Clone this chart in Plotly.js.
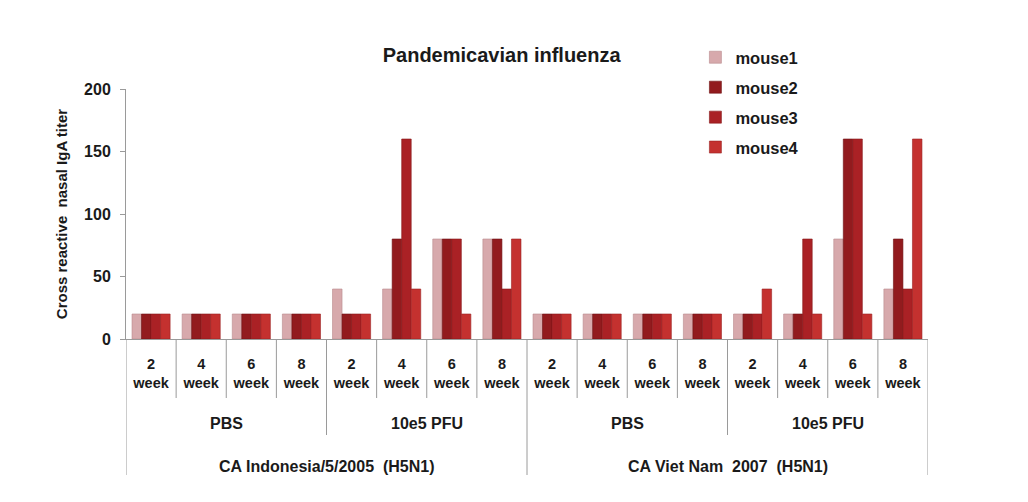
<!DOCTYPE html>
<html>
<head>
<meta charset="utf-8">
<script src="https://cdn.plot.ly/plotly-3.0.1.min.js"></script>
<style>
  html, body { margin: 0; padding: 0; background: #ffffff; }
  #chart { width: 1028px; height: 502px; }
</style>
</head>
<body>
<div id="chart"></div>
<script>
// ---- Data ----
const weekLabels = ["2", "4", "6", "8", "2", "4", "6", "8", "2", "4", "6", "8", "2", "4", "6", "8"];
const doseLabels = ["PBS", "10e5 PFU", "PBS", "10e5 PFU"];
const strainLabels = ["CA Indonesia/5/2005  (H5N1)", "CA Viet Nam  2007  (H5N1)"];
const seriesNames = ["mouse1", "mouse2", "mouse3", "mouse4"];

const mouse1 = [20, 20, 20, 20, 40, 40, 80, 80, 20, 20, 20, 20, 20, 20, 80, 40];
const mouse2 = [20, 20, 20, 20, 20, 80, 80, 80, 20, 20, 20, 20, 20, 20, 160, 80];
const mouse3 = [20, 20, 20, 20, 20, 160, 80, 40, 20, 20, 20, 20, 20, 80, 160, 40];
const mouse4 = [20, 20, 20, 20, 20, 40, 20, 80, 20, 20, 20, 20, 40, 20, 20, 160];

const yTicks = [0, 50, 100, 150, 200];

// ---- Styles ----
const colors = ["#d7a9ac", "#921b1e", "#aa2125", "#c4312f"];
const edgeColors = ["#b88a8d", "#6e1214", "#861719", "#9c2324"];
const FONT = "Liberation Sans, Arial, Helvetica, sans-serif";

const allSeries = [mouse1, mouse2, mouse3, mouse4];
const xIdx = weekLabels.map((_, i) => i);

const traces = allSeries.map((vals, k) => ({
  type: "bar",
  name: seriesNames[k],
  x: xIdx,
  y: vals,
  legendgroup: "g" + k,
  marker: { color: colors[k], line: { color: edgeColors[k], width: 0.6 } },
  hoverinfo: "x+y+name"
}));

// separators below the axis
const shapes = [];
const yPlotBottom = 0;
const yWeek = -0.236, yDose = -0.384, yStrain = -0.544;
const n = weekLabels.length;
const perDose = n / doseLabels.length;       // 4
const perStrain = n / strainLabels.length;   // 8
for (let b = 0; b <= n; b++) {
  const xb = b - 0.5;
  let yEnd = yWeek;
  if (b % perStrain === 0) yEnd = yStrain;
  else if (b % perDose === 0) yEnd = yDose;
  shapes.push({
    type: "line", xref: "x", yref: "paper",
    x0: xb, x1: xb, y0: yPlotBottom, y1: yEnd,
    line: { color: "#9a9a9a", width: 1 }
  });
}

const annotations = [];
doseLabels.forEach((t, i) => {
  annotations.push({
    text: t, xref: "x", yref: "paper",
    x: i * perDose + (perDose - 1) / 2, y: -0.336,
    showarrow: false, xanchor: "center", yanchor: "middle",
    font: { family: FONT, size: 16, color: "#1a1a1a", weight: "bold" }
  });
});
strainLabels.forEach((t, i) => {
  annotations.push({
    text: t, xref: "x", yref: "paper",
    x: i * perStrain + (perStrain - 1) / 2, y: -0.508,
    showarrow: false, xanchor: "center", yanchor: "middle",
    font: { family: FONT, size: 16, color: "#1a1a1a", weight: "bold" }
  });
});

const layout = {
  width: 1028,
  height: 502,
  paper_bgcolor: "#ffffff",
  plot_bgcolor: "#ffffff",
  margin: { l: 126, r: 100, t: 89, b: 163 },
  font: { family: FONT, color: "#1a1a1a" },
  title: {
    text: "<b>Pandemicavian influenza</b>",
    x: 0.488, xanchor: "center",
    y: 0.89, yanchor: "middle",
    font: { family: FONT, size: 20, color: "#1a1a1a" }
  },
  barmode: "group",
  bargap: 0.24,
  bargroupgap: 0,
  showlegend: true,
  legend: {
    x: 0.71, xanchor: "left",
    y: 1.196, yanchor: "top",
    font: { family: FONT, size: 16.5, color: "#1a1a1a", weight: "bold" },
    bgcolor: "rgba(0,0,0,0)",
    traceorder: "grouped",
    tracegroupgap: 5.5,
    itemwidth: 30
  },
  xaxis: {
    type: "linear",
    range: [-0.5, n - 0.5],
    tickvals: xIdx,
    ticktext: weekLabels.map(w => w + "<br>week"),
    ticks: "",
    ticklabelstandoff: 12,
    tickfont: { family: FONT, size: 14.5, color: "#1a1a1a", weight: "bold" },
    showgrid: false,
    zeroline: false,
    showline: true,
    linecolor: "#9a9a9a",
    linewidth: 1,
    fixedrange: true
  },
  yaxis: {
    range: [0, 200],
    tickvals: yTicks,
    ticktext: yTicks.map(String),
    ticks: "outside",
    ticklen: 5,
    tickcolor: "#9a9a9a",
    ticklabelstandoff: 6,
    tickfont: { family: FONT, size: 16, color: "#1a1a1a", weight: "bold" },
    showgrid: false,
    zeroline: false,
    showline: true,
    linecolor: "#9a9a9a",
    linewidth: 1,
    title: {
      text: "<b>Cross reactive  nasal IgA titer</b>",
      font: { family: FONT, size: 15, color: "#1a1a1a" },
      standoff: 12
    },
    fixedrange: true
  },
  shapes: shapes,
  annotations: annotations
};

Plotly.newPlot("chart", traces, layout, { displayModeBar: false, staticPlot: true });
</script>
</body>
</html>
